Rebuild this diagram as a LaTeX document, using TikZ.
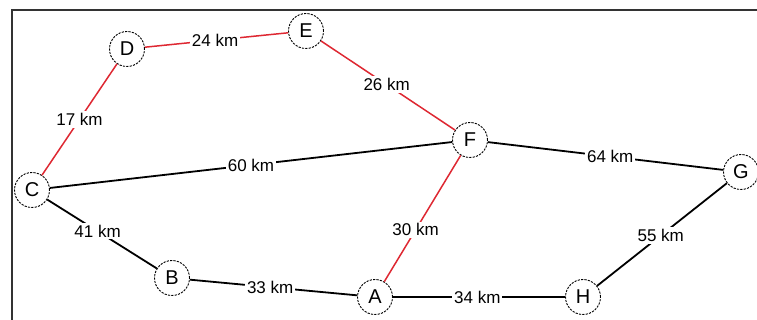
\documentclass[tikz,border=0pt]{standalone}
\usepackage{fontspec}
\setmainfont{Liberation Sans}
\definecolor{redge}{RGB}{222,40,50}
\begin{document}
\begin{tikzpicture}[x=1pt,y=-1pt,
  city/.style={circle,draw=black,line width=0.9pt,dash pattern=on 2.2pt off 1.2pt,fill=white,minimum size=35pt,inner sep=0pt,font=\fontsize{20}{20}\selectfont},
  road/.style={line width=1.8pt,black},
  redroad/.style={line width=1.5pt,redge},
  lbl/.style={fill=white,text=black,inner sep=2pt,font=\fontsize{17}{17}\selectfont}]
\useasboundingbox (0,0) rectangle (757,320);
\draw[line width=1.2pt,black!80] (12,320) -- (12,10) -- (757,10);
\node[city] (D) at (127,49) {D};
\node[city] (E) at (306,31) {E};
\node[city] (F) at (470,140) {F};
\node[city] (G) at (741,172) {G};
\node[city] (C) at (32,190) {C};
\node[city] (B) at (172,278) {B};
\node[city] (A) at (375,297) {A};
\node[city] (H) at (583,297) {H};
\draw[redroad] (C) -- node[lbl,pos=0.5] {17 km} (D);
\draw[redroad] (D) -- node[lbl,pos=0.49] {24 km} (E);
\draw[redroad] (E) -- node[lbl,pos=0.49] {26 km} (F);
\draw[redroad] (F) -- node[lbl,pos=0.59] {30 km} (A);
\draw[road] (C) -- node[lbl,pos=0.5] {60 km} (F);
\draw[road] (F) -- node[lbl,pos=0.52] {64 km} (G);
\draw[road] (C) -- node[lbl,pos=0.46] {41 km} (B);
\draw[road] (B) -- node[lbl,pos=0.48] {33 km} (A);
\draw[road] (A) -- node[lbl,pos=0.49] {34 km} (H);
\draw[road] (H) -- node[lbl,pos=0.49] {55 km} (G);
\end{tikzpicture}
\end{document}
